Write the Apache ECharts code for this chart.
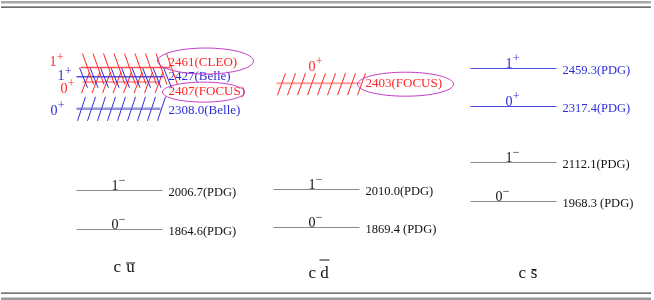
<!DOCTYPE html>
<html><head><meta charset="utf-8">
<script src="https://cdn.jsdelivr.net/npm/echarts@6/dist/echarts.min.js"></script>
<style>html,body{margin:0;padding:0;background:#fff}#c{width:654px;height:300px}</style>
</head><body><div id="c"></div>
<script>
// ---------------- data ----------------
const systems = ['c u', 'c d', 'c s'];          // c + anti-quark
const antiquarks = ['u', 'd', 's'];
// narrow / PDG levels
const levelSystem = [0, 0, 1, 1, 2, 2, 2, 2];
const levelMass   = [1864.6, 2006.7, 1869.4, 2010.0, 1968.3, 2112.1, 2317.4, 2459.3];
const levelJP     = ['0-', '1-', '0-', '1-', '0-', '1-', '0+', '1+'];
const levelLabel  = ['1864.6(PDG)', '2006.7(PDG)', '1869.4 (PDG)', '2010.0(PDG)',
                     '1968.3 (PDG)', '2112.1(PDG)', '2317.4(PDG)', '2459.3(PDG)'];
// broad states (hatched)
const broadSystem = [0, 0, 0, 0, 1];
const broadMass   = [2308.0, 2407, 2427, 2461, 2403];
const broadJP     = ['0+', '0+', '1+', '1+', '0+'];
const broadExp    = ['Belle', 'FOCUS', 'Belle', 'CLEO', 'FOCUS'];
const broadLabel  = ['2308.0(Belle)', '2407(FOCUS)', '2427(Belle)', '2461(CLEO)', '2403(FOCUS)'];

// ---------------- styles / layout ----------------
const FONT = '"Liberation Serif","Times New Roman",serif';
const RED = '#ff2424', BLUE = '#2d2dd6', BLACK = '#111', GRAY = '#8a8a8a', MAG = '#c53cc5';
const expColor = {Belle: BLUE, FOCUS: RED, CLEO: RED};
const circled = {FOCUS: true, CLEO: true};
const levelJPdx = {'1968.3 (PDG)': -14};
const broadLayout = {
  '2308.0(Belle)': {line: [-43, 41], lw: 2.5, lc: 'rgba(90,90,200,0.65)',
    hatch: {dir: 1, n: 9, x0: -42, step: 10, dx: 8, top: -12, bot: 12},
    jp: [-69, 2], tdy: 2},
  '2407(FOCUS)': {line: [-37, 41], lw: 2, lc: 'rgba(255,80,80,0.55)',
    hatch: {dir: 1, n: 8, x0: -38, step: 10.5, dx: 8, top: -10, bot: 11},
    jp: [-59, 7], tdy: 9, ell: [84, 10, 41, 10]},
  '2427(Belle)': {line: [-43, 44], lw: 1.5, lc: 'rgba(50,50,210,0.85)',
    hatch: {dir: -1, n: 9, x0: -40, step: 10.5, dx: 8, top: -9, bot: 11},
    jp: [-62, 0], tdy: 0},
  '2461(CLEO)': {line: [-39, 51], lw: 1.5, lc: 'rgba(255,50,50,0.85)',
    hatch: {dir: -1, n: 9, x0: -37, step: 10.5, dx: 11, top: -14, bot: 17},
    jp: [-70, -5], tdy: -5, ell: [86, -6.5, 48, 13]},
  '2403(FOCUS)': {line: [-40, 44], lw: 2, lc: 'rgba(255,80,80,0.55)',
    hatch: {dir: 1, n: 9, x0: -39, step: 10, dx: 8, top: -10, bot: 12},
    jp: [-8, -16], tdy: 0, ell: [89, 1, 48, 12]}
};
const quarkLayout = [
  {cdx: -6, adx: 11, base: 30, ol: -9, ow: 4.5},
  {cdx: -8, adx: 8, base: 36, ol: -18, ow: 5},
  {cdx: 5, adx: 20.5, base: 36, ol: -8.5, ow: 2.5}
];

function jpEls(x, ymid, jp, color) {
  const sign = jp[1] === '+' ? '+' : '\u2212';
  return [
    {type: 'text', x: x, y: ymid, style: {text: jp[0], fill: color, font: '14px ' + FONT, align: 'left', verticalAlign: 'middle'}},
    {type: 'text', x: x + 7.3, y: ymid - 5, style: {text: sign, fill: color, font: '12px ' + FONT, align: 'left', verticalAlign: 'middle'}}
  ];
}

function renderLevel(params, api) {
  const i = params.dataIndex;
  const p = api.coord([api.value(0), api.value(1)]);
  const cx = p[0], y = Math.round(p[1]) + 0.5;
  const pos = levelJP[i][1] === '+';
  const lc = pos ? '#4a4ae6' : GRAY, tc = pos ? BLUE : BLACK;
  const dx = levelJPdx[levelLabel[i]] !== undefined ? levelJPdx[levelLabel[i]] : -4;
  const children = [
    {type: 'line', shape: {x1: cx - 43, y1: y, x2: cx + 43, y2: y}, style: {stroke: lc, lineWidth: 1}},
    {type: 'text', x: cx + 49, y: y + 2, style: {text: levelLabel[i], fill: tc, font: '12.5px ' + FONT, align: 'left', verticalAlign: 'middle'}}
  ].concat(jpEls(cx + dx - 4, y - 4.5, levelJP[i], tc));
  return {type: 'group', children: children};
}

function renderBroad(params, api) {
  const i = params.dataIndex;
  const p = api.coord([api.value(0), api.value(1)]);
  const cx = p[0], y = p[1];
  const L = broadLayout[broadLabel[i]];
  const col = expColor[broadExp[i]];
  const children = [];
  const h = L.hatch;
  for (let k = 0; k < h.n; k++) {
    const xb = cx + h.x0 + k * h.step;
    if (h.dir > 0) { // "/" : bottom-left to top-right
      children.push({type: 'line', shape: {x1: xb, y1: y + h.bot, x2: xb + h.dx, y2: y + h.top}, style: {stroke: col, lineWidth: 1}});
    } else {          // "\" : top-left to bottom-right
      children.push({type: 'line', shape: {x1: xb, y1: y + h.top, x2: xb + h.dx, y2: y + h.bot}, style: {stroke: col, lineWidth: 1}});
    }
  }
  children.push({type: 'line', shape: {x1: cx + L.line[0], y1: y, x2: cx + L.line[1], y2: y}, style: {stroke: L.lc, lineWidth: L.lw}});
  children.push({type: 'text', x: cx + 49, y: y + L.tdy, style: {text: broadLabel[i], fill: col, font: '13px ' + FONT, align: 'left', verticalAlign: 'middle'}});
  jpEls(cx + L.jp[0], y + L.jp[1], broadJP[i], col).forEach(e => children.push(e));
  if (circled[broadExp[i]] && L.ell) {
    children.push({type: 'ellipse', shape: {cx: cx + L.ell[0], cy: y + L.ell[1], rx: L.ell[2], ry: L.ell[3]}, style: {fill: 'none', stroke: MAG, lineWidth: 1}});
  }
  return {type: 'group', children: children};
}

function renderQuark(params, api) {
  const i = params.dataIndex;
  const p = api.coord([api.value(0), 1800]);
  const cx = p[0], yb = p[1];
  const Q = quarkLayout[i];
  const base = yb + Q.base;
  const ax = cx + Q.adx;
  return {type: 'group', children: [
    {type: 'text', x: cx + Q.cdx, y: base, style: {text: 'c', fill: BLACK, font: '17px ' + FONT, align: 'left', verticalAlign: 'bottom'}},
    {type: 'text', x: ax, y: base, style: {text: antiquarks[i], fill: BLACK, font: '17px ' + FONT, align: 'center', verticalAlign: 'bottom'}},
    {type: 'line', shape: {x1: ax - Q.ow, y1: base + Q.ol - 4, x2: ax + Q.ow, y2: base + Q.ol - 4}, style: {stroke: BLACK, lineWidth: 1}}
  ]};
}

const chart = echarts.init(document.getElementById('c'), null, {renderer: 'canvas'});
chart.setOption({
  animation: false,
  backgroundColor: '#fff',
  grid: {left: 21, width: 591, top: 57, height: 189},
  xAxis: {type: 'category', data: systems, show: false},
  yAxis: {type: 'value', min: 1800, max: 2500, show: false},
  graphic: [
    {type: 'rect', shape: {x: 1, y: 1, width: 650, height: 2.5}, style: {fill: '#a9a9a9'}},
    {type: 'rect', shape: {x: 1, y: 6.5, width: 650, height: 1.3}, style: {fill: '#3d3d3d'}},
    {type: 'rect', shape: {x: 1, y: 292.5, width: 650, height: 1.3}, style: {fill: '#4a4a4a'}},
    {type: 'rect', shape: {x: 1, y: 297.5, width: 650, height: 2.5}, style: {fill: '#9a9a9a'}}
  ],
  series: [
    {type: 'custom', renderItem: renderLevel, data: levelSystem.map((s, i) => [s, levelMass[i]]), silent: true},
    {type: 'custom', renderItem: renderBroad, data: broadSystem.map((s, i) => [s, broadMass[i]]), silent: true},
    {type: 'custom', renderItem: renderQuark, data: systems.map((s, i) => [i]), silent: true}
  ]
});
</script></body></html>
